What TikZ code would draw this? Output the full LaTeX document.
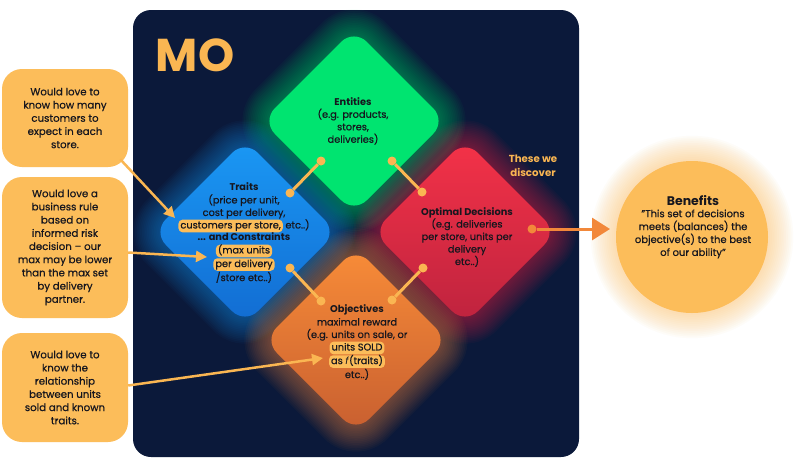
\documentclass[tikz,border=0pt]{standalone}
\usepackage{fontspec}
\setmainfont{Poppins}[UprightFeatures={FakeBold=0.6}]
\usetikzlibrary{arrows.meta}
\definecolor{navy}{RGB}{11,25,58}
\definecolor{gr}{RGB}{0,228,112}
\definecolor{bl}{RGB}{26,152,244}
\definecolor{blb}{RGB}{18,108,210}
\definecolor{rd}{RGB}{244,50,72}
\definecolor{rdb}{RGB}{190,35,62}
\definecolor{orr}{RGB}{248,140,56}
\definecolor{orb}{RGB}{200,95,48}
\definecolor{yel}{RGB}{252,189,90}
\definecolor{conn}{RGB}{250,182,82}
\definecolor{arr}{RGB}{242,136,58}
\definecolor{ink}{RGB}{22,22,30}
\newcommand\hlt[1]{\tikz[baseline=(hlX.base)]\node[fill=yel,rounded corners=4pt,inner xsep=2pt,inner ysep=1.6pt,text height=7.2pt,text depth=2.2pt,outer sep=0pt](hlX){#1};}
\newcommand\dia[4]{\path[#4] (#1,{#2-#3}) -- ({#1+#3},#2) -- (#1,{#2+#3}) -- ({#1-#3},#2) -- cycle;}
\newcommand\glowd[3]{\foreach \k [evaluate=\k as \hd using 92+2.4*\k, evaluate=\k as \rr using 18+1.7*\k] in {1,...,16}{\dia{#1}{#2}{\hd}{fill=#3,opacity=0.035,rounded corners=\rr pt}}}
\tikzset{
  box/.style={fill=yel, rounded corners=20pt, minimum width=126pt, align=center, text=ink, font=\fontsize{10.2}{13.2}\selectfont, inner sep=0pt},
  dt/.style={align=center, text=ink, font=\fontsize{9.8}{12.5}\selectfont, inner sep=0pt},
  dotn/.style={circle, fill=conn, inner sep=0pt, minimum size=9pt},
  link/.style={conn, line width=3pt},
  yarr/.style={conn, line width=2.5pt, -{Triangle[length=11pt,width=11pt]}}
}
\begin{document}
\begin{tikzpicture}[x=1pt,y=-1pt]
\useasboundingbox (0,0) rectangle (795,467);
\fill[white] (0,0) rectangle (795,467);
% panel
\fill[navy, rounded corners=18pt] (133,10) rectangle (579,457);
\node[font=\fontsize{46}{46}\selectfont\bfseries, text=conn, inner sep=0pt] (mo) at (195,55) {MO};
% glows
\glowd{354}{121}{gr}
\glowd{245}{232}{bl}
\glowd{465}{232}{rd}
\glowd{356}{340}{orr}
% diamonds
\dia{354}{121}{92}{rounded corners=18pt, fill=gr}
\dia{245}{232}{92}{rounded corners=18pt, top color=bl, bottom color=blb}
\dia{465}{232}{92}{rounded corners=18pt, top color=rd, bottom color=rdb}
\dia{356}{340}{92}{rounded corners=18pt, top color=orr, bottom color=orb}
% diamond texts
\node[dt] (ent) at (353,121) {\textbf{Entities}\\(e.g. products,\\stores,\\deliveries)};
\node[dt] (tra) at (244,233) {\textbf{Traits}\\(price per unit,\\cost per delivery,\\\hlt{customers per store,} etc..)\\\textbf{... and Constraints}\\\hlt{(max units}\\\hlt{per delivery}\\/store etc..)};
\node[dt] (opt) at (467,237) {\textbf{Optimal Decisions}\\(e.g. deliveries\\per store, units per\\delivery\\etc..)};
\node[dt] (obj) at (357,342.5) {\textbf{Objectives}\\maximal reward\\(e.g. units on sale, or\\\hlt{units SOLD}\\\hlt{as \textit{f}(traits)}\\etc..)};
\node[align=center, font=\fontsize{10.2}{13.5}\selectfont\bfseries, text=conn, inner sep=0pt] (disc) at (533,166) {These we\\discover};
% dumbbell connectors
\node[dotn] (p1) at (290,193) {};
\node[dotn] (p2) at (321,161) {};
\node[dotn] (p3) at (392,161) {};
\node[dotn] (p4) at (422,192) {};
\node[dotn] (p5) at (423,268) {};
\node[dotn] (p6) at (392,300) {};
\node[dotn] (p7) at (290,268) {};
\node[dotn] (p8) at (321,301) {};
\draw[link] (p1) -- (p2);
\draw[link] (p3) -- (p4);
\draw[link] (p5) -- (p6);
\draw[link] (p7) -- (p8);
% benefits
\foreach \k [evaluate=\k as \rr using 76+1.8*\k] in {1,...,14}{\fill[yel, opacity=0.04] (692,237) circle (\rr pt);}
\node[circle, fill=yel, minimum size=152pt, inner sep=0pt] (ben) at (692,237) {};
\node[font=\fontsize{12.5}{14}\selectfont\bfseries, text=ink, inner sep=0pt] (bent) at (693,201) {Benefits};
\node[align=center, font=\fontsize{10}{12.9}\selectfont, text=ink, inner sep=0pt] (benq) at (693,234) {"This set of decisions\\meets (balances) the\\objective(s) to the best\\of our ability"};
\node[dotn, fill=arr] (p9) at (532,229) {};
\coordinate (q9) at (610,229);
\draw[arr, line width=3pt, -{Triangle[length=18pt,width=22pt]}] (p9) -- (q9);
% left boxes
\node[box, minimum height=98pt] (b1) at (65,118) {Would love to\\know how many\\customers to\\expect in each\\store.};
\node[box, minimum height=141pt] (b2) at (65,247.5) {Would love a\\business rule\\based on\\informed risk\\decision -- our\\max may be lower\\than the max set\\by delivery\\partner.};
\node[box, minimum height=109pt] (b3) at (65,387.5) {Would love to\\know the\\relationship\\between units\\sold and known\\traits.};
\coordinate (t1) at (175,218);
\coordinate (t2) at (207,257);
\coordinate (t3) at (323,358);
\draw[yarr] ([xshift=-8pt,yshift=8pt]b1.south east) -- (t1);
\draw[yarr] ([yshift=-5pt]b2.east) -- (t2);
\draw[yarr] ([yshift=2pt]b3.east) -- (t3);
\end{tikzpicture}
\end{document}
